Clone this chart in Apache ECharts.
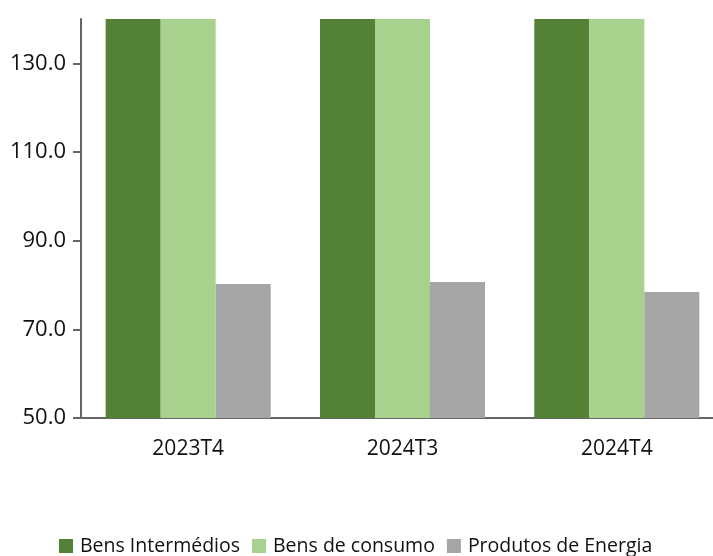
<!DOCTYPE html>
<html><head><meta charset="utf-8">
<script src="https://cdn.jsdelivr.net/npm/echarts@6/dist/echarts.min.js"></script>
<style>html,body{margin:0;padding:0;background:#fff}#c{width:713px;height:556px}</style>
</head><body><div id="c"></div>
<script>
const categories = ['2023T4', '2024T3', '2024T4'];
const seriesNames = ['Bens Intermédios', 'Bens de consumo', 'Produtos de Energia'];
const bensIntermedios = [160, 160, 160];
const bensConsumo = [160, 160, 160];
const produtosEnergia = [80.2, 80.7, 78.4];
const seriesColors = ['#538135', '#a9d18e', '#a5a5a5'];

const font = 'Open Sans';
const chart = echarts.init(document.getElementById('c'));
chart.setOption({
  animation: false,
  grid: { left: 81, width: 643, top: 19, height: 399, containLabel: false, outerBoundsMode: 'none' },
  legend: {
    top: 531, left: 54, itemWidth: 14, itemHeight: 14, itemGap: 12,
    icon: 'rect',
    textStyle: { fontFamily: font, fontSize: 19.5, color: '#111', padding: [0, 0, 0, 2] },
    data: seriesNames
  },
  xAxis: {
    type: 'category', data: categories,
    axisLine: { lineStyle: { color: '#666', width: 2 } },
    axisTick: { show: false },
    axisLabel: { fontFamily: font, fontSize: 21, color: '#111', margin: 21 }
  },
  yAxis: {
    type: 'value', min: 50, max: 140, interval: 20,
    splitLine: { show: false },
    axisLine: { show: true, lineStyle: { color: '#666', width: 2 } },
    axisTick: { show: true, length: 8, lineStyle: { color: '#666', width: 2 } },
    axisLabel: { fontFamily: font, fontSize: 22, color: '#111', margin: 15,
      showMaxLabel: false,
      formatter: v => (v > 135 ? '' : v.toFixed(1)) }
  },
  series: [
    { name: seriesNames[0], type: 'bar', data: bensIntermedios, itemStyle: { color: seriesColors[0] }, barGap: '0%', barCategoryGap: '23%', clip: true },
    { name: seriesNames[1], type: 'bar', data: bensConsumo, itemStyle: { color: seriesColors[1] }, barGap: '0%', barCategoryGap: '23%', clip: true },
    { name: seriesNames[2], type: 'bar', data: produtosEnergia, itemStyle: { color: seriesColors[2] }, barGap: '0%', barCategoryGap: '23%', clip: true }
  ]
});
</script></body></html>
